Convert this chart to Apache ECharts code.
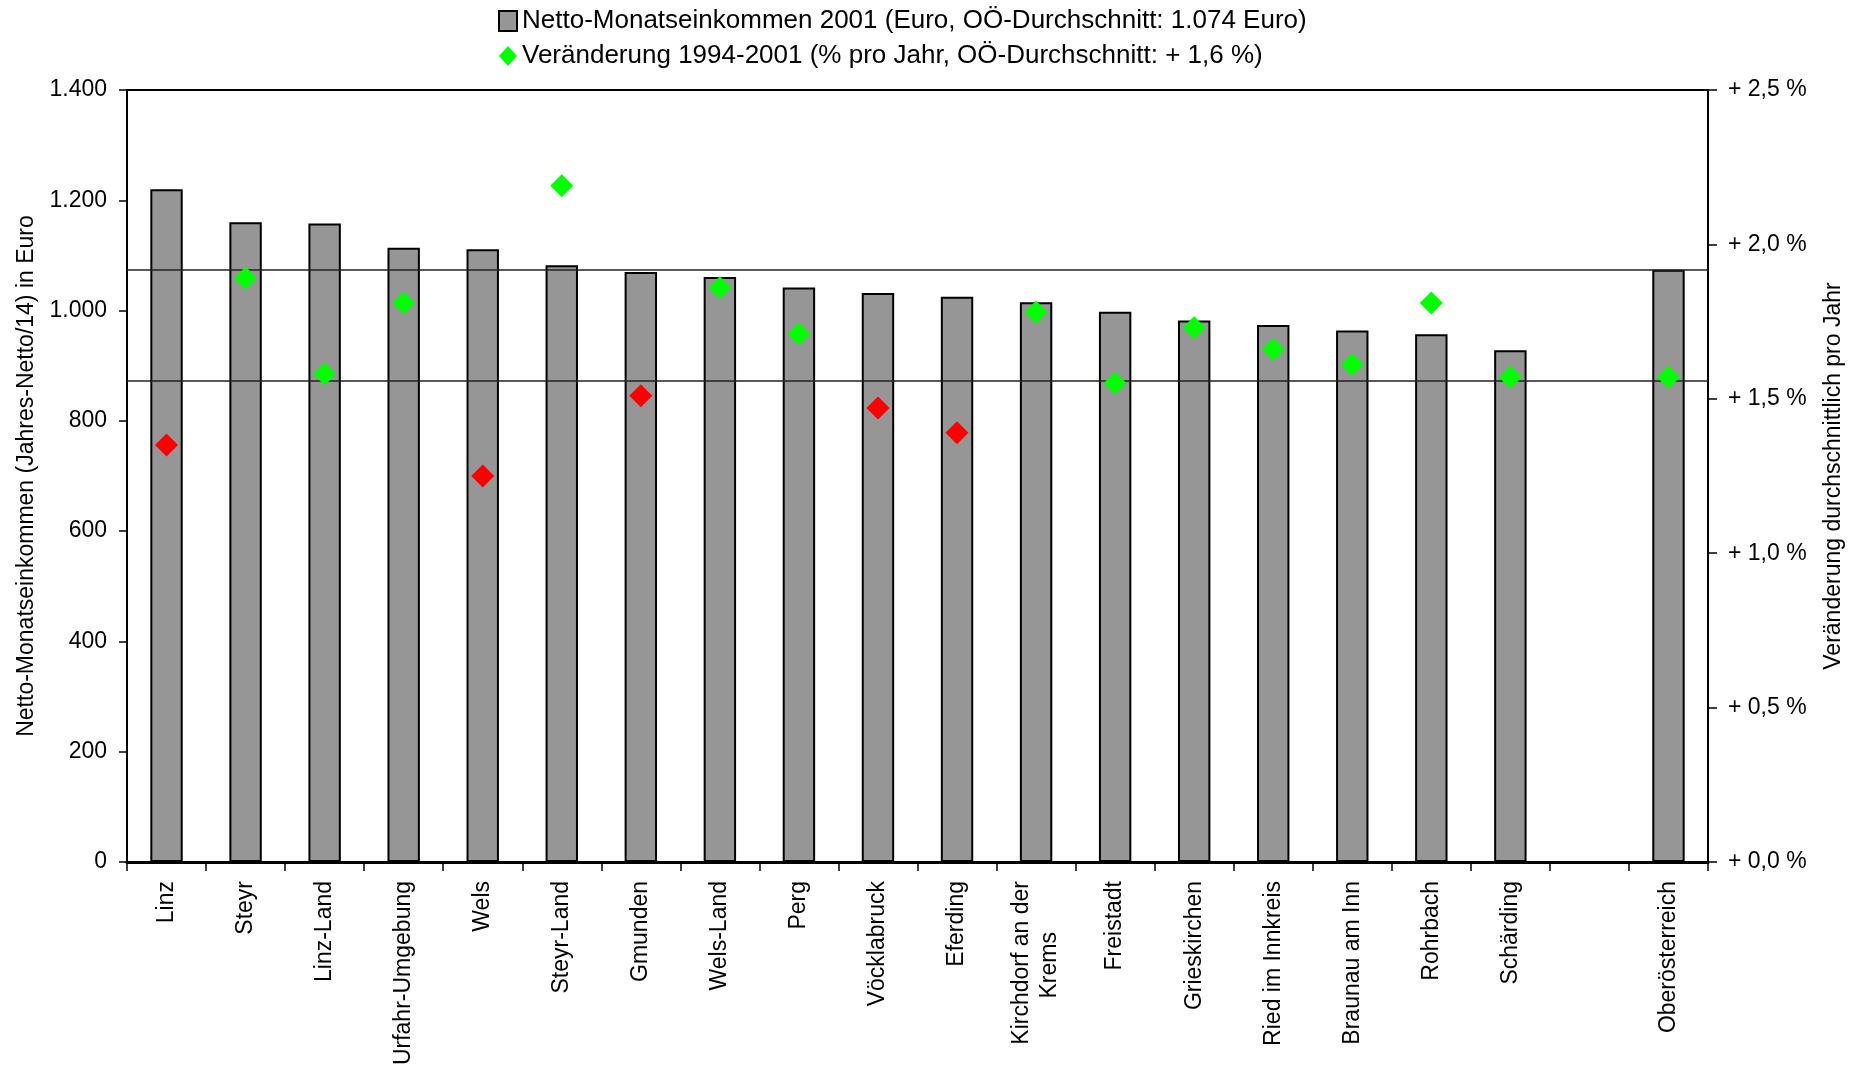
<!DOCTYPE html>
<html>
<head>
<meta charset="utf-8">
<script src="https://cdn.jsdelivr.net/npm/echarts@6/dist/echarts.min.js"></script>
<style>
html,body{margin:0;padding:0;background:#fff;}
#c{width:1863px;height:1073px;}
</style>
</head>
<body>
<div id="c"></div>
<script>
const categories = ['Linz','Steyr','Linz-Land','Urfahr-Umgebung','Wels','Steyr-Land','Gmunden','Wels-Land','Perg','Vöcklabruck','Eferding','Kirchdorf an der\nKrems\u00a0\u00a0\u00a0\u00a0\u00a0\u00a0\u00a0\u00a0','Freistadt','Grieskirchen','Ried im Innkreis','Braunau am Inn','Rohrbach','Schärding','','Oberösterreich'];
const income = [1220,1160,1158,1114,1111,1082,1070,1061,1042,1032,1025,1015,998,982,974,964,957,928,null,1074];
const growth = [1.35,1.89,1.58,1.81,1.25,2.19,1.51,1.86,1.71,1.47,1.39,1.78,1.55,1.73,1.66,1.61,1.81,1.57,null,1.57];
const belowAvg = [true,false,false,false,true,false,true,false,false,true,true,false,false,false,false,false,false,false,false,false];
const incomeAvg = 1074;
const growthAvg = 1.565;

const FONT = 'Liberation Sans, Arial, sans-serif';
const fmtEuro = v => v >= 1000 ? Math.floor(v/1000) + '.' + String(v % 1000).padStart(3,'0') : String(v);
const fmtPct = v => '+ ' + v.toFixed(1).replace('.', ',') + ' %';

const nameIncome = 'Netto-Monatseinkommen 2001 (Euro, OÖ-Durchschnitt: 1.074 Euro)';
const nameGrowth = 'Veränderung 1994-2001 (% pro Jahr, OÖ-Durchschnitt: + 1,6 %)';

const chart = echarts.init(document.getElementById('c'), null, {renderer:'canvas'});
chart.setOption({
  backgroundColor:'#fff',
  animation:false,
  textStyle:{fontFamily:FONT,color:'#000'},
  legend:{
    orient:'vertical', left:493, top:3, itemGap:9,
    itemWidth:18, itemHeight:20,
    textStyle:{fontFamily:FONT,fontSize:26,color:'#000'},
    data:[{name:nameIncome,icon:'rect'},{name:nameGrowth,icon:'diamond'}]
  },
  grid:{left:127,right:155,top:90,bottom:211,show:true,borderColor:'#000',borderWidth:2,backgroundColor:'transparent'},
  xAxis:{
    type:'category', data:categories, boundaryGap:true,
    axisLine:{lineStyle:{color:'#000',width:3}},
    axisTick:{show:true,length:9,lineStyle:{color:'#000',width:1.5}},
    axisLabel:{rotate:90,interval:0,margin:19,fontSize:23,fontFamily:FONT,color:'#000',lineHeight:28}
  },
  yAxis:[{
    type:'value', min:0, max:1400, interval:200,
    name:'Netto-Monatseinkommen (Jahres-Netto/14) in Euro',
    nameLocation:'middle', nameRotate:90, nameGap:88,
    nameTextStyle:{fontSize:23,fontFamily:FONT,color:'#000'},
    axisLine:{show:true,lineStyle:{color:'#000',width:2}},
    axisTick:{show:true,length:8,lineStyle:{color:'#000',width:1.5}},
    axisLabel:{formatter:fmtEuro,fontSize:23,fontFamily:FONT,color:'#000',margin:20},
    splitLine:{show:false}
  },{
    type:'value', min:0, max:2.5, interval:0.5, position:'right',
    name:'Veränderung durchschnittlich pro Jahr',
    nameLocation:'middle', nameRotate:90, nameGap:114,
    nameTextStyle:{fontSize:23,fontFamily:FONT,color:'#000'},
    axisLine:{show:true,lineStyle:{color:'#000',width:2}},
    axisTick:{show:true,length:9,lineStyle:{color:'#000',width:1.5}},
    axisLabel:{formatter:fmtPct,fontSize:23,fontFamily:FONT,color:'#000',margin:20},
    splitLine:{show:false}
  }],
  series:[{
    name:nameIncome,
    type:'bar', yAxisIndex:0, data:income, barWidth:'41%',
    itemStyle:{color:'#969696',borderColor:'#000',borderWidth:2},
    markLine:{silent:true,symbol:'none',label:{show:false},
      lineStyle:{color:'#222',width:1.5,type:'solid'},
      data:[{yAxis:incomeAvg}]},
    z:2
  },{
    name:nameGrowth,
    type:'scatter', yAxisIndex:1, symbol:'diamond', symbolSize:23,
    itemStyle:{color:'#00ff00',opacity:1},
    data:growth.map((v,i)=> v==null ? null : {value:v, itemStyle:{color: belowAvg[i] ? '#ff0000' : '#00ff00'}}),
    markLine:{silent:true,symbol:'none',label:{show:false},
      lineStyle:{color:'#222',width:1.5,type:'solid'},
      data:[{yAxis:growthAvg}]},
    z:5
  }]
});
</script>
</body>
</html>
